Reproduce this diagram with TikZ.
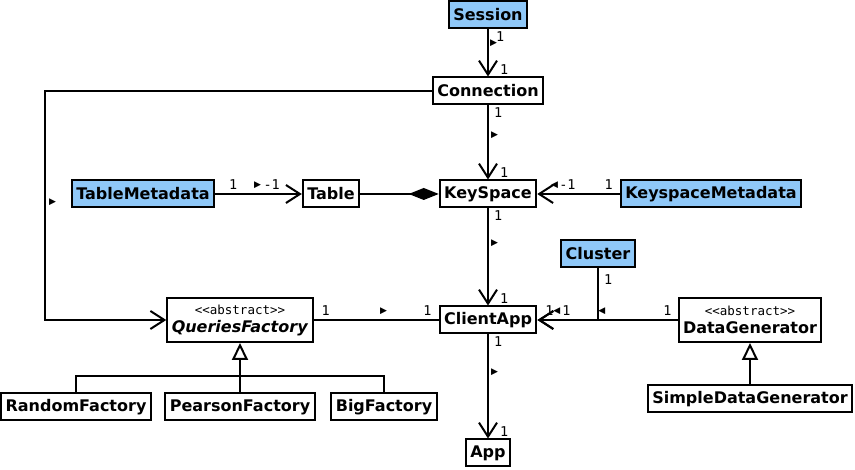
\documentclass[tikz,border=0pt]{standalone}
\usepackage{fontspec}
\setmainfont{DejaVu Sans}
\setmonofont{DejaVu Sans Mono}
\usetikzlibrary{arrows.meta}
\definecolor{classblue}{RGB}{143,200,248}
\tikzset{
  cls/.style={draw,line width=2pt,fill=white,inner xsep=4.5pt,inner ysep=2pt,minimum height=27pt,font=\fontsize{16}{18}\selectfont\bfseries},
  ext/.style={cls,fill=classblue},
  abstr/.style={cls,align=center,minimum height=44pt,inner ysep=1pt},
  assoc/.style={line width=2pt,-{Straight Barb[length=14pt,width=18pt,line width=2pt]}},
  plain/.style={line width=2pt},
  comp/.style={line width=2pt,-{Diamond[length=30pt,width=12pt]}},
  inherit/.style={line width=2pt,-{Triangle[open,length=17pt,width=16pt,line width=2pt,fill=white]}},
  mult/.style={font=\ttfamily\fontsize{13.5}{13.5}\selectfont,inner sep=1pt},
  dirmark/.style={font=\fontsize{9}{9}\selectfont,inner sep=0pt}
}
\newcommand{\stereo}{{\ttfamily\mdseries\fontsize{12.5}{14}\selectfont <<abstract>>}}
\begin{document}
\begin{tikzpicture}[x=1pt,y=-1pt]
\useasboundingbox (0,0) rectangle (855,470);
\node[ext] (session) at (488,15) {Session};
\node[cls] (connection) at (488,91) {Connection};
\node[cls] (keyspace) at (488,194) {KeySpace};
\node[cls] (table) at (331,194) {Table};
\node[ext] (tablemeta) at (143,194) {TableMetadata};
\node[ext] (keyspacemeta) at (711,194) {KeyspaceMetadata};
\node[ext] (cluster) at (598,254) {Cluster};
\node[cls] (clientapp) at (488,320) {ClientApp};
\node[abstr] (queries) at (240,320) {\stereo\\\textit{QueriesFactory}};
\node[abstr] (datagen) at (750,320) {\stereo\\DataGenerator};
\node[cls] (random) at (76,407) {RandomFactory};
\node[cls] (pearson) at (240,407) {PearsonFactory};
\node[cls] (big) at (384,407) {BigFactory};
\node[cls] (simple) at (750,399) {SimpleDataGenerator};
\node[cls] (app) at (488,453) {App};
\coordinate (leftrail) at (45,202);
\coordinate (qbar) at (240,376);
\draw[assoc] (session) -- (connection)
  node[mult,pos=0,anchor=north west,xshift=6pt] {1}
  node[dirmark,pos=0.3,anchor=west,xshift=1pt] {▶}
  node[mult,pos=1,anchor=south west,xshift=10pt] {1};
\draw[assoc] (connection) -- (keyspace)
  node[mult,pos=0,anchor=north west,xshift=4pt] {1}
  node[dirmark,pos=0.4,anchor=west,xshift=2pt] {▶}
  node[mult,pos=1,anchor=south west,xshift=10pt] {1};
\draw[assoc] (keyspace) -- (clientapp)
  node[mult,pos=0,anchor=north west,xshift=4pt] {1}
  node[dirmark,pos=0.36,anchor=west,xshift=2pt] {▶}
  node[mult,pos=1,anchor=south west,xshift=10pt] {1};
\draw[assoc] (clientapp) -- (app)
  node[mult,pos=0,anchor=north west,xshift=4pt] {1}
  node[dirmark,pos=0.36,anchor=west,xshift=2pt] {▶}
  node[mult,pos=1,anchor=south west,xshift=10pt] {1};
\draw[assoc] (connection) -| (leftrail)
  node[dirmark,anchor=west,xshift=3pt] {▶} |- (queries);
\draw[assoc] (tablemeta) -- (table)
  node[mult,pos=0,anchor=south west,xshift=12pt,yshift=2pt] {1}
  node[dirmark,pos=0.49,anchor=south,yshift=4pt] {▶}
  node[mult,pos=1,anchor=south east,xshift=-20pt,yshift=2pt] {-1};
\draw[comp] (table) -- (keyspace);
\draw[assoc] (keyspacemeta) -- (keyspace)
  node[mult,pos=0,anchor=south east,xshift=-5pt,yshift=2pt] {1}
  node[dirmark,pos=0.79,anchor=south,yshift=4pt] {◀}
  node[mult,pos=1,anchor=south west,xshift=20pt,yshift=2pt] {-1};
\draw[plain] (queries) -- (clientapp)
  node[mult,pos=0,anchor=south west,xshift=6pt,yshift=2pt] {1}
  node[dirmark,pos=0.56,anchor=south,yshift=4pt] {▶}
  node[mult,pos=1,anchor=south east,xshift=-5pt,yshift=2pt] {1};
\draw[assoc] (datagen) -- (clientapp)
  node[mult,pos=0,anchor=south east,xshift=-4pt,yshift=2pt] {1}
  node[dirmark,pos=0.54,anchor=south,yshift=4pt] {◀}
  node[mult,pos=1,anchor=south west,xshift=6pt,yshift=2pt] {1};
\draw[assoc] (cluster) |- (clientapp)
  node[mult,pos=0,anchor=north west,xshift=4pt,yshift=-4pt] {1}
  node[dirmark,pos=0.84,anchor=south,yshift=4pt] {◀}
  node[mult,pos=1,anchor=south west,xshift=23pt,yshift=2pt] {1};
\draw[inherit] (qbar) -- (queries);
\draw[plain] (random.north) |- (qbar) -| (big.north);
\draw[plain] (pearson) -- (qbar);
\draw[inherit] (simple) -- (datagen);
\end{tikzpicture}
\end{document}
